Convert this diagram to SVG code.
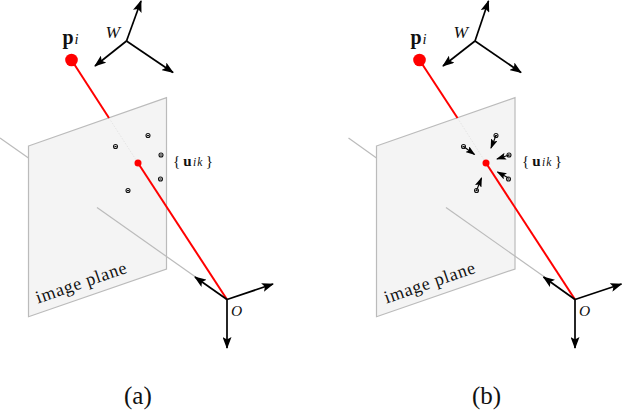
<svg xmlns="http://www.w3.org/2000/svg" width="622" height="410" viewBox="0 0 622 410">
<style>
text{font-family:"Liberation Serif","Times New Roman",serif;fill:#111}
.plane{fill:#f4f4f4;stroke:#bbb;stroke-width:1.2}
.ray{fill:none;stroke:#bbb;stroke-width:1.2}
.faint{fill:none;stroke:#ddd;stroke-width:.7;stroke-dasharray:1.5 1.5}
.red{fill:none;stroke:#f00;stroke-width:2}
.ax{fill:none;stroke:#000;stroke-width:1.7;marker-end:url(#a)}
.sm{fill:none;stroke:#000;stroke-width:1.1;marker-end:url(#b)}
.pt{fill:none;stroke:#111;stroke-width:1.1}
.dot{fill:#f00}
</style>
<defs>
<marker id="a" viewBox="0 0 12 9" refX="11" refY="4.500" markerWidth="12" markerHeight="9" markerUnits="userSpaceOnUse" orient="auto"><path d="M0 0L12 4.500L0 9L2.500 4.500Z" fill="#000"/></marker>
<marker id="b" viewBox="0 0 10 7" refX="9" refY="3.500" markerWidth="10" markerHeight="7" markerUnits="userSpaceOnUse" orient="auto"><path d="M0 0L10 3.500L0 7L2 3.500Z" fill="#000"/></marker>
<g id="m"><circle r="2" class="pt"/><path d="M-1 0H1" class="pt"/></g>
</defs>

<g id="panel-a">
<g id="plane-a">
<path class="ray" d="M0 138L28.500 158"/>
<path class="plane" d="M28.500 146L166.500 97.700V269L28.500 316.700Z"/>
<text transform="translate(38 303.500) rotate(-19)" font-size="18" textLength="95" lengthAdjust="spacing">image plane</text>
</g>
<g id="connectors-a">
<path class="ray" d="M97 207.500L197 278"/>
<path class="faint" d="M109 118L138 163"/>
<path class="red" d="M71.500 60L109 118"/>
<path class="red" d="M138 163L227 299.500"/>
<path class="ax" d="M126.500 41L141 1"/>
<path class="ax" d="M126.500 41L95 66"/>
<path class="ax" d="M126.500 41L173 72.500"/>
<path class="ax" d="M227 299.500L195 277"/>
<path class="ax" d="M227 299.500L273 284"/>
<path class="ax" d="M227 299.500V348"/>
</g>
<g id="point-p-a"><circle class="dot" cx="71.500" cy="60" r="6.300"/><text x="62.500" y="44" font-size="20" font-weight="bold">p</text><text x="74.500" y="44" font-size="14.500" font-style="italic">i</text></g>
<g id="point-proj-a"><circle class="dot" cx="138" cy="163" r="3.500"/></g>
<g id="features-a">
<use href="#m" x="148" y="135.500"/><use href="#m" x="115.500" y="146.500"/><use href="#m" x="161" y="155"/><use href="#m" x="160.500" y="179"/><use href="#m" x="128" y="190.500"/>
</g>
<g id="labels-a">
<text x="105.500" y="38" font-size="17.500" font-style="italic">W</text>
<text x="231" y="316" font-size="15.500" font-style="italic">O</text>
<text x="173" y="166" font-size="15">{<tspan font-weight="bold" dx="3">u</tspan><tspan font-style="italic" font-size="11.500" dx="1.500" letter-spacing="1">ik</tspan><tspan dx="2.500">}</tspan></text>
<text x="124" y="404" font-size="25">(a)</text>
</g>
</g>

<g id="panel-b">
<g id="plane-b">
<path class="ray" d="M348.500 138L376.500 158"/>
<path class="plane" d="M376.500 146L515 97.700V269L376.500 316.700Z"/>
<text transform="translate(386.500 303.500) rotate(-19)" font-size="18" textLength="95" lengthAdjust="spacing">image plane</text>
</g>
<g id="connectors-b">
<path class="ray" d="M446 207.500L546 278"/>
<path class="faint" d="M457.500 118L486 163"/>
<path class="red" d="M419.500 60L457.500 118"/>
<path class="red" d="M486 163L575 299.500"/>
<path class="ax" d="M475 41L488.500 1"/>
<path class="ax" d="M475 41L443 66"/>
<path class="ax" d="M475 41L521 72.500"/>
<path class="ax" d="M575 299.500L543.500 277"/>
<path class="ax" d="M575 299.500L621.500 284"/>
<path class="ax" d="M575 299.500V348"/>
<path class="sm" d="M496 135.500L491 148"/>
<path class="sm" d="M463.500 146.500L474.500 154.500"/>
<path class="sm" d="M509 155L497 159"/>
<path class="sm" d="M508.500 178L497.500 172"/>
<path class="sm" d="M476.500 190.500L481.500 178"/>
</g>
<g id="point-p-b"><circle class="dot" cx="419.500" cy="60" r="6.300"/><text x="410.500" y="44" font-size="20" font-weight="bold">p</text><text x="422.500" y="44" font-size="14.500" font-style="italic">i</text></g>
<g id="point-proj-b"><circle class="dot" cx="486" cy="163" r="3.500"/></g>
<g id="features-b">
<use href="#m" x="496" y="135.500"/><use href="#m" x="463.500" y="146.500"/><use href="#m" x="509" y="155"/><use href="#m" x="508.500" y="179"/><use href="#m" x="476.500" y="190.500"/>
</g>
<g id="labels-b">
<text x="453.500" y="38" font-size="17.500" font-style="italic">W</text>
<text x="579" y="316" font-size="15.500" font-style="italic">O</text>
<text x="522" y="166" font-size="15">{<tspan font-weight="bold" dx="3">u</tspan><tspan font-style="italic" font-size="11.500" dx="1.500" letter-spacing="1">ik</tspan><tspan dx="2.500">}</tspan></text>
<text x="472" y="404" font-size="25">(b)</text>
</g>
</g>
</svg>
